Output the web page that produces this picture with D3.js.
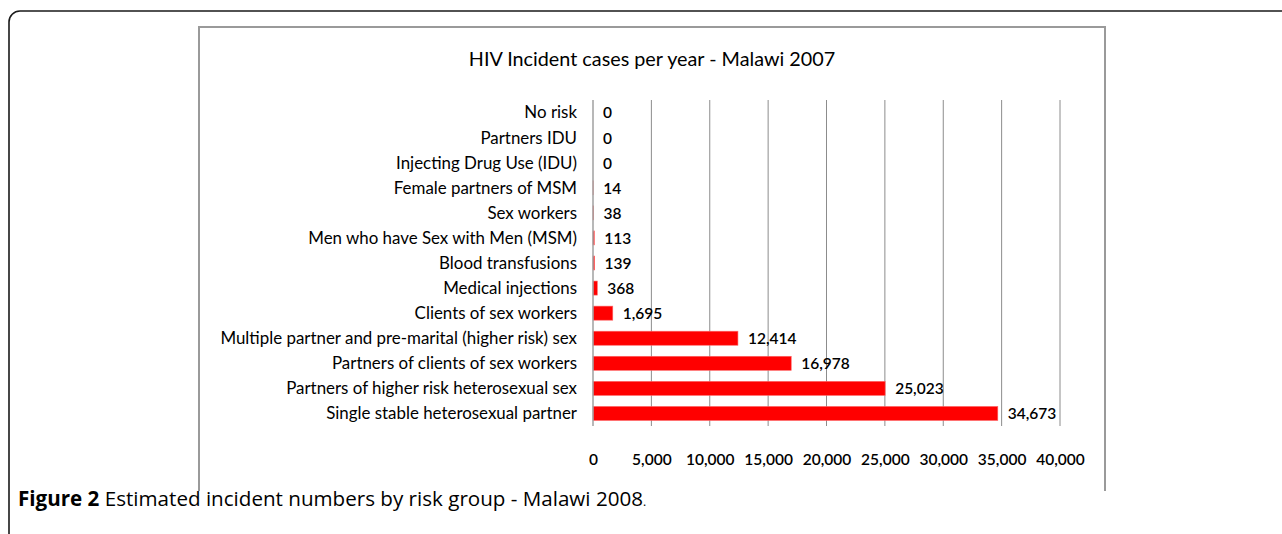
<!DOCTYPE html>
<html>
<head>
<meta charset="utf-8">
<script src="https://cdn.jsdelivr.net/npm/d3@7"></script>
<style>
  body { margin: 0; background: #fff; }
  svg { display: block; }
</style>
</head>
<body>
<svg id="graf"></svg>
<script>
let categorias = [
  'No risk',
  'Partners IDU',
  'Injecting Drug Use (IDU)',
  'Female partners of MSM',
  'Sex workers',
  'Men who have Sex with Men (MSM)',
  'Blood transfusions',
  'Medical injections',
  'Clients of sex workers',
  'Multiple partner and pre-marital (higher risk) sex',
  'Partners of clients of sex workers',
  'Partners of higher risk heterosexual sex',
  'Single stable heterosexual partner'
]
let casos = [0, 0, 0, 14, 38, 113, 139, 368, 1695, 12414, 16978, 25023, 34673]
let ticks = [0, 5000, 10000, 15000, 20000, 25000, 30000, 35000, 40000]

let titulo = 'HIV Incident cases per year - Malawi 2007'

function graficar() {
  let width = 1282
  let height = 534
  let fuente = 'Lato, "Open Sans", sans-serif'
  let fmt = d3.format(',')

  let svg = d3.select('#graf')
    .attr('width', width)
    .attr('height', height)

  // marco exterior redondeado
  svg.append('rect')
    .attr('x', 9).attr('y', 11)
    .attr('width', 1400).attr('height', 700)
    .attr('rx', 11)
    .attr('fill', 'none')
    .attr('stroke', '#1a1a1a')
    .attr('stroke-width', 1.6)

  // marco del grafico (sin linea inferior)
  svg.append('path')
    .attr('d', 'M199,491 L199,27 L1105,27 L1105,491')
    .attr('fill', 'none')
    .attr('stroke', '#9a9a9a')
    .attr('stroke-width', 2)

  svg.append('text')
    .attr('x', 652).attr('y', 66)
    .attr('text-anchor', 'middle')
    .style('font-family', fuente)
    .style('font-size', '19.8px')
    .attr('fill', '#000')
    .text(titulo)

  let x = d3.scaleLinear()
    .domain([0, 40000])
    .range([593, 1060])

  let y = d3.scaleBand()
    .domain(categorias)
    .range([100, 426])
    .paddingInner(0.44)
    .paddingOuter(0.22)

  // lineas de cuadricula
  svg.append('g')
    .selectAll('line')
    .data(ticks.slice(1))
    .enter().append('line')
    .attr('x1', d => x(d)).attr('x2', d => x(d))
    .attr('y1', 100).attr('y2', 426)
    .attr('stroke', '#8c8c8c')
    .attr('stroke-width', 1)

  // barras
  svg.append('g')
    .selectAll('rect')
    .data(casos)
    .enter().append('rect')
    .attr('x', x(0))
    .attr('y', (d, i) => y(categorias[i]))
    .attr('width', d => x(d) - x(0))
    .attr('height', y.bandwidth())
    .attr('fill', '#ff0000')
    .attr('stroke', '#ff6666')
    .attr('stroke-width', 0.6)

  // eje vertical en cero
  svg.append('line')
    .attr('x1', x(0)).attr('x2', x(0))
    .attr('y1', 100).attr('y2', 426)
    .attr('stroke', '#a0a0a0')
    .attr('stroke-width', 1.5)

  // etiquetas de categoria
  svg.append('g')
    .selectAll('text')
    .data(categorias)
    .enter().append('text')
    .attr('x', 577)
    .attr('y', d => y(d) + y.bandwidth() / 2)
    .attr('dy', '0.35em')
    .attr('text-anchor', 'end')
    .style('font-family', fuente)
    .style('font-size', '16.9px')
    .attr('fill', '#000')
    .text(d => d)

  // etiquetas de valores
  svg.append('g')
    .selectAll('text')
    .data(casos)
    .enter().append('text')
    .attr('x', d => x(d) + 10)
    .attr('y', (d, i) => y(categorias[i]) + y.bandwidth() / 2)
    .attr('dy', '0.38em')
    .style('font-family', fuente)
    .style('font-size', '15.5px')
    .style('font-weight', '600')
    .attr('fill', '#000')
    .text(d => fmt(d))

  // eje x (solo etiquetas)
  let eje = svg.append('g')
    .attr('transform', 'translate(0,451)')
    .call(d3.axisBottom(x).tickValues(ticks).tickFormat(fmt).tickSize(0))
  eje.select('.domain').remove()
  eje.selectAll('text')
    .style('font-family', fuente)
    .style('font-size', '15.5px')
    .style('font-weight', '600')
    .attr('fill', '#000')

  // pie de figura
  let pie = svg.append('text')
    .attr('x', 18).attr('y', 506)
    .style('font-family', '"Open Sans", sans-serif')
    .style('font-size', '20.6px')
    .attr('fill', '#000')
  pie.append('tspan').style('font-weight', 'bold').text('Figure 2')
  pie.append('tspan').text(' Estimated incident numbers by risk group - Malawi 2008')
  pie.append('tspan').style('font-size', '12px').text('.')
}

graficar()
</script>
</body>
</html>
